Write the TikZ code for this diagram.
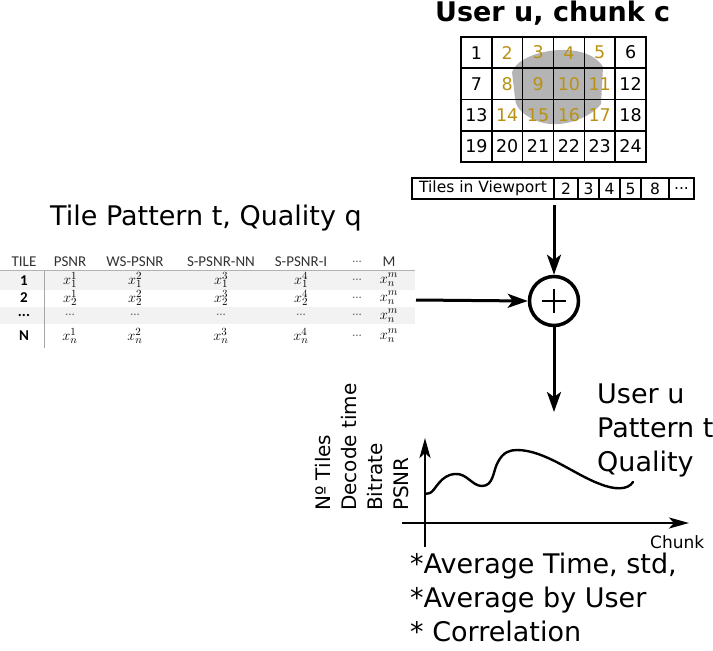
\documentclass[tikz,border=0pt]{standalone}
\usepackage{fontspec}
\setmainfont{DejaVu Sans}
\newfontfamily\carl{Carlito}
\usetikzlibrary{arrows.meta}
\definecolor{gold}{RGB}{185,145,20}
\definecolor{blobgray}{RGB}{180,180,180}
\definecolor{rowgray}{RGB}{242,242,242}
\definecolor{tabtext}{RGB}{50,50,50}
\definecolor{dotgray}{RGB}{110,110,110}
\tikzset{
  cell/.style={draw, line width=1.6pt, minimum width=30.83pt, minimum height=31.25pt, inner sep=0pt, font=\fontsize{17.5}{17.5}\selectfont},
  vpcell/.style={draw, line width=1.1pt, minimum height=21pt, inner sep=0pt, font=\fontsize{15.5}{15.5}\selectfont},
  arr/.style={line width=3pt, -{Stealth[length=20pt,width=14pt,inset=5pt]}},
  axisarr/.style={line width=2.6pt, -{Stealth[length=20pt,width=11pt,inset=5pt]}},
  big/.style={font=\fontsize{27}{34}\selectfont, inner sep=0pt, anchor=base west},
  th/.style={font=\carl\fontsize{15}{15}\selectfont, text=tabtext, inner sep=0pt},
  tl/.style={font=\carl\bfseries\fontsize{15}{15}\selectfont, inner sep=0pt},
  tv/.style={font=\fontsize{15.5}{15.5}\selectfont, inner sep=0pt},
  td/.style={font=\carl\fontsize{13}{13}\selectfont, text=dotgray, inner sep=0pt},
}
\begin{document}
\begin{tikzpicture}[x=1pt,y=-1pt]
\useasboundingbox (0,0) rectangle (713,651);

% title
\node[font=\bfseries\fontsize{27}{27}\selectfont, inner sep=0pt, anchor=base west] (title) at (435,21) {User u, chunk c};

% viewport blob
\fill[blobgray] (512,72) .. controls (520,49) and (587,39) .. (603,67) -- (601,104)
  .. controls (590,118) and (562,129) .. (540,122) .. controls (525,117) and (515,108) .. (515,98) -- cycle;

% tile grid
\foreach \r in {0,...,3} {
  \foreach \c in {0,...,5} {
    \pgfmathtruncatemacro\n{\r*6+\c+1}
    \def\col{black}
    \ifnum\r<3 \ifnum\c>0 \ifnum\c<5 \def\col{gold}\fi\fi\fi
    \node[cell, text=\col] (g\n) at ({461+30.83*(\c+0.5)},{37+31.25*(\r+0.5)}) {\n};
  }
}

% tiles in viewport
\node[vpcell, minimum width=142pt] (vp) at (483,188.5) {Tiles in Viewport};
\node[vpcell, minimum width=24pt] (v2) at (566,188.5) {2};
\node[vpcell, minimum width=21pt] (v3) at (588.5,188.5) {3};
\node[vpcell, minimum width=21pt] (v4) at (609.5,188.5) {4};
\node[vpcell, minimum width=21pt] (v5) at (630.5,188.5) {5};
\node[vpcell, minimum width=28pt] (v8) at (655,188.5) {8};
\node[vpcell, minimum width=25pt] (vd) at (681.5,188.5) {...};

% combiner
\node[draw, circle, line width=3.5pt, minimum size=49pt, inner sep=0pt] (plus) at (554,301) {};
\draw[line width=2.5pt] ([xshift=-12pt]plus.center) -- ([xshift=12pt]plus.center);
\draw[line width=2.5pt] ([yshift=-12pt]plus.center) -- ([yshift=12pt]plus.center);

\coordinate (vpout) at (554,205);
\draw[arr] (vpout) -- (plus.north);

% table
\node[font=\fontsize{27}{27}\selectfont, inner sep=0pt, anchor=base west] (ttitle) at (50,225) {Tile Pattern t, Quality q};
\fill[rowgray] (0,271) rectangle (415,290);
\fill[rowgray] (0,307) rectangle (415,324);
\draw[gray!60, line width=0.6pt] (0,270) -- (415,270);
\draw[gray!70, line width=0.8pt] (44,271) -- (44,348);
\node[th] (hTile) at (24,262) {TILE};
\node[th] (h1) at (70,262) {PSNR};
\node[th] (h2) at (135,262) {WS-PSNR};
\node[th] (h3) at (221,262) {S-PSNR-NN};
\node[th] (h4) at (301,262) {S-PSNR-I};
\node[td] (h5) at (357,262) {...};
\node[th] (h6) at (389,262) {M};

\node[tl] (r1) at (24,281) {1};
\node[tl] (r2) at (24,298) {2};
\node[tl] (r3) at (24,315) {...};
\node[tl] (r4) at (24,336) {N};

\foreach \y/\s in {280/1,298/2,336/n} {
  \node[tv] at (70,\y) {$x_{\s}^{1}$};
  \node[tv] at (135,\y) {$x_{\s}^{2}$};
  \node[tv] at (221,\y) {$x_{\s}^{3}$};
  \node[tv] at (301,\y) {$x_{\s}^{4}$};
  \node[td] at (357,\y) {...};
}
\node[tv] at (389,280) {$x_{n}^{m}$};
\node[tv] at (389,298) {$x_{n}^{m}$};
\node[tv] at (389,316) {$x_{n}^{m}$};
\node[tv] at (389,336) {$x_{n}^{m}$};
\foreach \x in {70,135,221,301,357} { \node[td] at (\x,315) {...}; }

\coordinate (tblout) at (416,300);
\draw[arr] (tblout) -- (plus.west);

% output arrow
\coordinate (chartin) at (554,412);
\draw[arr] (plus.south) -- (chartin);

% right labels
\node[big] (lu) at (597,403) {User u};
\node[big] (lp) at (597,437) {Pattern t};
\node[big] (lq) at (597,471) {Quality};

% chart
\coordinate (yb) at (425,547);
\coordinate (yt) at (425,438);
\coordinate (xl) at (402,523);
\coordinate (xr) at (689,523);
\draw[axisarr] (yb) -- (yt);
\draw[axisarr] (xl) -- (xr);
\draw[line width=2.4pt, line cap=round] (425,494) -- (430,493) .. controls (436,490) and (440,475) .. (455,474)
  .. controls (467,473) and (472,486) .. (482,486) .. controls (494,486) and (493,470) .. (498,462)
  .. controls (503,452) and (510,450) .. (517,450) .. controls (545,450) and (575,475) .. (600,484)
  .. controls (615,490) and (628,490) .. (633,482);
\node[font=\fontsize{17}{17}\selectfont, inner sep=0pt, anchor=base west] (chunk) at (650,548) {Chunk};
\node[font=\fontsize{20}{26}\selectfont, inner sep=0pt, rotate=90, align=left, anchor=south west] (ylab) at (409,511) {Nº Tiles\\Decode time\\Bitrate\\PSNR};

% bottom notes
\node[big] (n1) at (410,573) {*Average Time, std,};
\node[big] (n2) at (410,607) {*Average by User};
\node[big] (n3) at (410,641) {* Correlation};
\end{tikzpicture}
\end{document}
